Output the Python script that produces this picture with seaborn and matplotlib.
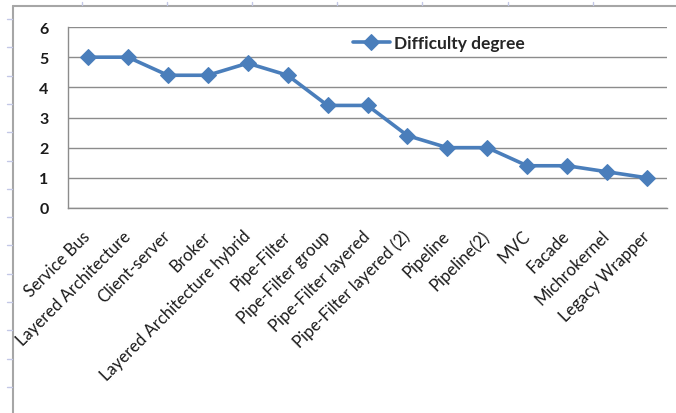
import matplotlib
matplotlib.use("Agg")
import matplotlib.pyplot as plt
from matplotlib.lines import Line2D
from matplotlib.ticker import FixedLocator
from matplotlib.transforms import ScaledTranslation
import seaborn as sns
import numpy as np
import pandas as pd

# data
patterns = ["Service Bus", "Layered Architecture", "Client-server", "Broker",
            "Layered Architecture hybrid", "Pipe-Filter", "Pipe-Filter group",
            "Pipe-Filter layered", "Pipe-Filter layered (2)", "Pipeline",
            "Pipeline(2)", "MVC", "Facade", "Michrokernel", "Legacy Wrapper"]
difficulty = [5.0, 5.0, 4.4, 4.4, 4.8, 4.4, 3.4, 3.4, 2.4, 2.0, 2.0, 1.4, 1.4, 1.2, 1.0]
y_ticks = [0, 1, 2, 3, 4, 5, 6]
series_name = "Difficulty degree"

sns.set_style("white")
plt.rcParams["font.family"] = ["Lato", "DejaVu Sans"]

W, H = 676, 414
fig = plt.figure(figsize=(W / 100, H / 100), dpi=100)
ax = fig.add_axes([68 / W, 1 - 209 / H, (667 - 68) / W, (209 - 28) / H])

df = pd.DataFrame({"pos": np.arange(len(patterns)), "value": difficulty})
blue = "#4a7ebb"
sns.lineplot(data=df, x="pos", y="value", ax=ax, color=blue, lw=2.6,
             marker="D", markersize=8.5, markeredgecolor=blue, label=series_name)

grey = "#8c8c8c"
ax.set_xlim(-0.5, len(patterns) - 0.5)
ax.set_ylim(0, 6)
ax.set_yticks(y_ticks)
ax.set_yticklabels([str(t) for t in y_ticks], fontsize=11.5, fontweight="bold", color="#1a1a1a")
ax.yaxis.grid(True, color=grey, lw=1)
ax.xaxis.grid(False)

ax.set_xticks(np.arange(len(patterns)))
ax.set_xticklabels(patterns, rotation=45, ha="right", va="center",
                   rotation_mode="anchor", fontsize=12, color="#1a1a1a")
shift = ScaledTranslation(4 / 100, 0, fig.dpi_scale_trans)
for lab in ax.get_xticklabels():
    lab.set_transform(lab.get_transform() + shift)
ax.tick_params(axis="x", which="major", length=0, pad=18)
ax.xaxis.set_minor_locator(FixedLocator(np.arange(-0.5, len(patterns), 1.0)))
ax.tick_params(axis="x", which="minor", length=4, width=1, color=grey, direction="out")
ax.tick_params(axis="y", length=4, width=1, color=grey, direction="out", pad=10)

for side in ["top", "right"]:
    ax.spines[side].set_visible(False)
for side in ["left", "bottom"]:
    ax.spines[side].set_color(grey)
    ax.spines[side].set_linewidth(1)

ax.set_xlabel("")
ax.set_ylabel("")

leg = ax.legend(loc="upper left", bbox_to_anchor=(0.45, 1.04), frameon=False,
                handlelength=2.1, handletextpad=0.25,
                prop={"family": ["Lato", "DejaVu Sans"], "weight": "bold", "size": 12.5})

# frame and ruler marks around the screenshot
frame = "#a6a6a6"
fig.add_artist(Line2D([13 / W, 13 / W], [0, 1 - 7 / H], transform=fig.transFigure, color=frame, lw=1.5))
fig.add_artist(Line2D([13 / W, 1], [1 - 7 / H, 1 - 7 / H], transform=fig.transFigure, color=frame, lw=1.5))
ruler = "#c3c8e6"
for yy in np.arange(20, H, 28.3):
    fig.add_artist(Line2D([7 / W, 12 / W], [1 - yy / H, 1 - yy / H], transform=fig.transFigure, color=ruler, lw=1))
for xx in np.arange(82, W, 85.1):
    fig.add_artist(Line2D([xx / W, xx / W], [1 - 3 / H, 1 - 6 / H], transform=fig.transFigure, color=ruler, lw=1))

fig.savefig("out.png", dpi=100)
